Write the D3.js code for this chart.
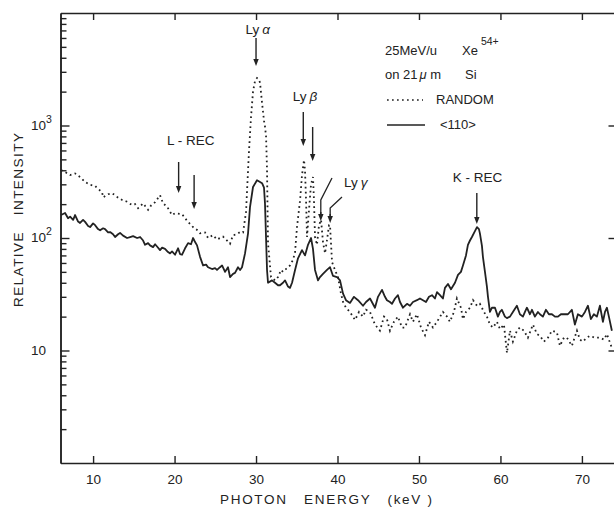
<!DOCTYPE html>
<html>
<head>
<meta charset="utf-8">
<script src="https://cdn.jsdelivr.net/npm/d3@7/dist/d3.min.js"></script>
<style>
  body { margin: 0; background: #fff; }
  text { font-family: "Liberation Sans", Arial, Helvetica, sans-serif; fill: #222; }
  .keep { white-space: pre; }
</style>
</head>
<body>
<svg id="chart"></svg>
<script>
// x tick labels (keV) and y decades
var energyTicks = [10, 20, 30, 40, 50, 60, 70];
var decadeTicks = [10, 100, 1000];
var decadeExp = ["", "2", "3"];

// RANDOM spectrum, [energy keV, relative intensity]
var randomSpectrum = [
  [6.07,402],[6.56,386],[7.18,363],[7.79,375],[8.40,348],[9.02,315],[9.63,297],[10.25,290],
  [10.49,278],[11.10,256],[11.23,230],[11.84,245],[12.33,250],[12.70,240],[13.07,228],[13.56,218],
  [14.17,210],[14.79,196],[15.15,200],[15.52,184],[16.14,203],[16.75,178],[17.12,195],[17.61,208],
  [18.22,240],[18.59,203],[19.08,190],[19.69,160],[20.06,166],[20.31,165],[20.92,163],[21.29,150],
  [21.66,139],[22.27,125],[22.76,118],[23.13,110],[23.74,112],[24.11,100],[24.72,106],[25.21,97],
  [25.95,103],[26.44,95],[26.81,89],[27.18,106],[27.67,108],[28.04,113],[28.41,112],[28.77,170],
  [29.14,600],[29.39,1200],[29.63,2000],[29.88,2500],[30.12,2644],[30.37,2550],[30.49,2400],[30.74,1585],
  [30.98,1100],[31.10,980],[31.23,800],[31.35,400],[31.47,90],[31.84,45],[32.33,42],[32.70,45],
  [33.07,52],[33.31,50],[33.80,54],[34.17,57],[34.54,64],[34.79,75],[35.03,125],[35.40,215],
  [35.64,360],[35.89,494],[36.01,400],[36.14,218],[36.26,102],[36.50,177],[36.75,300],[36.99,348],
  [37.11,218],[37.24,102],[37.48,87],[37.73,130],[37.98,145],[38.22,92],[38.47,73],[38.71,96],
  [38.96,130],[39.08,130],[39.33,61],[39.69,52],[40.06,45],[40.43,32],[40.68,27],[41.04,24],
  [41.53,22],[42.15,18.7],[42.64,22],[43.13,20],[43.50,23],[43.99,22],[44.60,17],[45.21,15],
  [45.71,20],[46.07,19],[46.44,15],[46.93,18],[47.42,20],[47.91,16],[48.28,16],[48.90,21],
  [49.26,18],[49.75,21],[50.25,16],[50.74,13.7],[51.23,18],[51.72,16],[52.21,18],[52.94,22],
  [53.44,20],[53.80,18],[54.29,22],[54.66,29],[55.15,24],[55.40,19],[55.77,22],[56.26,24],
  [56.63,28],[57.12,25],[57.48,26],[57.98,22],[58.34,20],[58.71,17],[59.08,16],[59.57,18],
  [59.94,15.5],[60.43,17],[60.80,9.5],[61.17,15],[61.53,12],[62.02,15],[62.39,16],[62.88,15],
  [63.37,13],[63.99,17],[64.48,14],[64.85,13.5],[65.34,12],[65.83,13],[66.32,15],[66.93,14.5],
  [67.30,11],[67.79,13],[68.16,13],[68.77,11],[69.39,15],[69.75,12.5],[70.12,12],[70.61,13],
  [70.98,13.5],[71.60,13],[72.21,13],[72.70,12.5],[73.07,14],[73.68,10.5]
];

// <110> channeled spectrum, [energy keV, relative intensity]
var channelSpectrum = [
  [6.07,160],[6.56,167],[6.93,150],[7.18,155],[7.55,145],[7.79,160],[8.16,140],[8.40,136],
  [8.77,145],[9.02,139],[9.39,128],[9.63,125],[10.00,135],[10.25,130],[10.61,120],[10.86,117],
  [11.23,122],[11.47,120],[11.84,112],[12.09,113],[12.45,108],[12.70,102],[13.07,108],[13.31,111],
  [13.68,105],[14.17,100],[14.54,102],[14.91,104],[15.40,100],[15.77,102],[16.14,95],[16.38,87],
  [16.75,90],[16.99,86],[17.36,83],[17.61,88],[17.85,84],[18.22,78],[18.47,82],[18.83,80],
  [19.20,75],[19.45,73],[19.69,76],[20.06,71],[20.43,81],[20.67,72],[20.92,71],[21.29,81],
  [21.66,90],[22.02,88],[22.27,100],[22.52,92],[22.76,86],[23.13,68],[23.50,57],[23.87,58],
  [24.11,55],[24.60,53],[24.97,54],[25.21,52],[25.58,55],[25.83,57],[26.20,50],[26.56,55],
  [26.81,45],[27.18,48],[27.42,49],[27.79,55],[28.04,52],[28.28,55],[28.65,73],[29.02,110],
  [29.26,188],[29.63,284],[30.12,326],[30.49,315],[30.74,307],[30.98,280],[31.10,203],[31.23,100],
  [31.35,52],[31.47,40],[31.96,42],[32.33,40],[32.70,38],[32.94,38],[33.31,40],[33.56,42],
  [33.93,37],[34.17,36],[34.42,40],[34.79,52],[35.15,66],[35.64,78],[36.01,70],[36.38,87],
  [36.75,100],[36.99,80],[37.24,52],[37.61,42],[37.85,45],[38.22,48],[38.71,52],[39.08,55],
  [39.45,46],[39.94,45],[40.31,42],[40.68,32],[41.04,28],[41.53,26.5],[42.02,30],[42.52,28],
  [43.13,25],[43.50,27],[43.99,29],[44.60,24],[44.97,30],[45.46,34.6],[45.83,30],[46.07,28],
  [46.44,27],[46.69,26],[47.06,29],[47.42,31],[47.67,27],[48.04,24],[48.53,26],[48.90,25],
  [49.26,27],[49.75,28],[50.12,29],[50.49,28],[50.86,27],[51.23,30],[51.60,31],[51.96,29],
  [52.21,33],[52.58,31],[52.94,29],[53.19,36],[53.56,39],[53.93,35],[54.42,40],[54.79,47],
  [55.15,50],[55.40,57],[55.77,70],[56.01,87],[56.26,95],[56.50,102],[56.87,115],[57.12,125],
  [57.36,120],[57.48,110],[57.73,85],[57.85,68],[58.10,50],[58.34,37],[58.47,30],[58.71,22],
  [58.96,24],[59.33,24],[59.69,20],[59.94,22],[60.18,23],[60.55,20],[60.80,19.4],[61.17,20],
  [61.53,22],[62.02,25],[62.39,21],[62.76,20],[63.01,22],[63.25,24],[63.62,21],[63.87,23],
  [64.23,20],[64.60,22],[64.85,21],[65.21,20],[65.58,23],[65.95,21],[66.32,21],[66.69,20],
  [67.06,20],[67.42,21],[67.79,21],[68.28,21],[68.77,23],[69.14,17],[69.51,21],[70.00,20],
  [70.37,22],[70.74,25],[71.10,19],[71.47,21],[71.84,20],[72.21,25],[72.58,18],[72.83,22],
  [73.07,24],[73.31,20],[73.68,15]
];

var width = 614,
  height = 507;

var chart = d3.select("#chart")
  .attr("width", width)
  .attr("height", height);

var x = d3.scaleLinear().domain([6, 74]).range([60.5, 614.5]);
var y = d3.scaleLog().domain([1, 10000]).range([463, 13]);

var ink = "#222";

// minor ticks for the log axis: 2..9 of every decade
var minorTicks = [];
[1, 10, 100, 1000].forEach(function(d) {
  for (var k = 2; k <= 9; k++) minorTicks.push(d * k);
});

function styleAxis(g) {
  g.select(".domain").attr("stroke", ink).attr("stroke-width", 1.5);
  g.selectAll(".tick line").attr("stroke", ink).attr("stroke-width", 1.4);
}

// bottom axis with labels
chart.append("g")
  .attr("transform", "translate(0,463)")
  .call(d3.axisBottom(x).tickValues(energyTicks).tickSize(-7).tickSizeOuter(0).tickPadding(11))
  .call(styleAxis)
  .call(function(g) {
    g.selectAll("text").attr("font-size", 13.5).attr("fill", ink)
      .attr("font-family", "Liberation Sans, Arial, sans-serif");
  });

// top axis
chart.append("g")
  .attr("transform", "translate(0,13)")
  .call(d3.axisTop(x).tickValues(energyTicks).tickSize(-7).tickSizeOuter(0).tickFormat(""))
  .call(styleAxis);

// left axis, minor then major
chart.append("g")
  .attr("transform", "translate(60.5,0)")
  .call(d3.axisLeft(y).tickValues(minorTicks).tickSize(-6).tickSizeOuter(0).tickFormat(""))
  .call(styleAxis);
chart.append("g")
  .attr("transform", "translate(60.5,0)")
  .call(d3.axisLeft(y).tickValues(decadeTicks).tickSize(-9).tickSizeOuter(0).tickFormat(""))
  .call(styleAxis);

// right axis (mostly off the edge)
chart.append("g")
  .attr("transform", "translate(614.5,0)")
  .call(d3.axisRight(y).tickValues(decadeTicks).tickSize(-6).tickSizeOuter(0).tickFormat(""))
  .call(styleAxis);

// decade labels 10, 10^2, 10^3
var decLabels = chart.append("g").selectAll("text")
  .data(decadeTicks)
  .enter().append("text")
  .attr("x", 31)
  .attr("y", function(d) { return y(d) + 4; })
  .attr("font-size", 13.5);
decLabels.append("tspan").text("10");
decLabels.append("tspan")
  .attr("dy", -7)
  .attr("font-size", 10.5)
  .text(function(d, i) { return decadeExp[i]; });

// spectra
var line = d3.line()
  .x(function(d) { return x(d[0]); })
  .y(function(d) { return y(d[1]); });

chart.append("path")
  .datum(randomSpectrum)
  .attr("d", line)
  .attr("fill", "none")
  .attr("stroke", ink)
  .attr("stroke-width", 1.8)
  .attr("stroke-dasharray", "1.7,3.3");

chart.append("path")
  .datum(channelSpectrum)
  .attr("d", line)
  .attr("fill", "none")
  .attr("stroke", ink)
  .attr("stroke-width", 1.8)
  .attr("stroke-linejoin", "round");

// axis titles
chart.append("text")
  .attr("class", "keep")
  .attr("x", 220)
  .attr("y", 504)
  .attr("font-size", 13.5)
  .attr("textLength", 212)
  .attr("lengthAdjust", "spacing")
  .text("PHOTON   ENERGY   (keV )");

chart.append("text")
  .attr("class", "keep")
  .attr("transform", "translate(23,307) rotate(-90)")
  .attr("font-size", 13.5)
  .attr("textLength", 174)
  .attr("lengthAdjust", "spacing")
  .text("RELATIVE   INTENSITY");

// arrows marking the lines
var notes = chart.append("g");

function arrow(e, y0, y1) {
  var cx = x(e);
  notes.append("path")
    .attr("d", "M" + cx + "," + y0 + "V" + (y1 - 5))
    .attr("stroke", ink)
    .attr("stroke-width", 1.4);
  notes.append("path")
    .attr("d", "M" + (cx - 2.7) + "," + (y1 - 7) + "L" + (cx + 2.7) + "," + (y1 - 7) + "L" + cx + "," + y1 + "Z")
    .attr("fill", ink);
}

function label(xp, yp, a, b) {
  var t = notes.append("text")
    .attr("x", xp)
    .attr("y", yp)
    .attr("font-size", 13.5)
    .attr("text-anchor", "middle");
  t.append("tspan").text(a);
  if (b) t.append("tspan").attr("dx", 3).attr("font-style", "italic").text(b);
}

label(x(30.2), 34, "Ly", "\u03b1");
arrow(30.0, 38, 66);

label(x(36.0), 101, "Ly", "\u03b2");
arrow(35.8, 112, 146);
arrow(36.95, 127, 161);

label(x(39.9) + 19, 187, "Ly", "\u03b3");
notes.append("path")
  .attr("d", "M332,178 L" + x(37.95) + ",200 V214")
  .attr("fill", "none").attr("stroke", ink).attr("stroke-width", 1.3);
arrow(37.95, 212, 221);
notes.append("path")
  .attr("d", "M342,197 L" + x(39.1) + ",208 V216")
  .attr("fill", "none").attr("stroke", ink).attr("stroke-width", 1.3);
arrow(39.1, 214, 223);

label(x(22.0), 145, "L - REC");
arrow(20.5, 162, 193);
arrow(22.4, 175, 209);

label(x(57.2), 182, "K - REC");
arrow(57.1, 193, 224);

// legend
var legend = chart.append("g").attr("font-size", 13);
var t1 = legend.append("text").attr("x", 385).attr("y", 55);
t1.append("tspan").text("25MeV/u");
t1.append("tspan").attr("x", 462).text("Xe");
t1.append("tspan").attr("dy", -10).attr("font-size", 10.5).attr("dx", 3).text("54+");

var t2 = legend.append("text").attr("x", 385).attr("y", 79);
t2.append("tspan").text("on 21");
t2.append("tspan").attr("font-style", "italic").attr("dx", 2).text("\u03bc");
t2.append("tspan").text(" m");
t2.append("tspan").attr("x", 465).text("Si");

legend.append("line")
  .attr("x1", 387).attr("x2", 423).attr("y1", 100).attr("y2", 100)
  .attr("stroke", ink).attr("stroke-width", 1.7).attr("stroke-dasharray", "1.7,3.3");
legend.append("text").attr("x", 436).attr("y", 104).text("RANDOM");

legend.append("line")
  .attr("x1", 387).attr("x2", 425).attr("y1", 125).attr("y2", 125)
  .attr("stroke", ink).attr("stroke-width", 1.6);
legend.append("text").attr("x", 440).attr("y", 129).text("<110>");
</script>
</body>
</html>
